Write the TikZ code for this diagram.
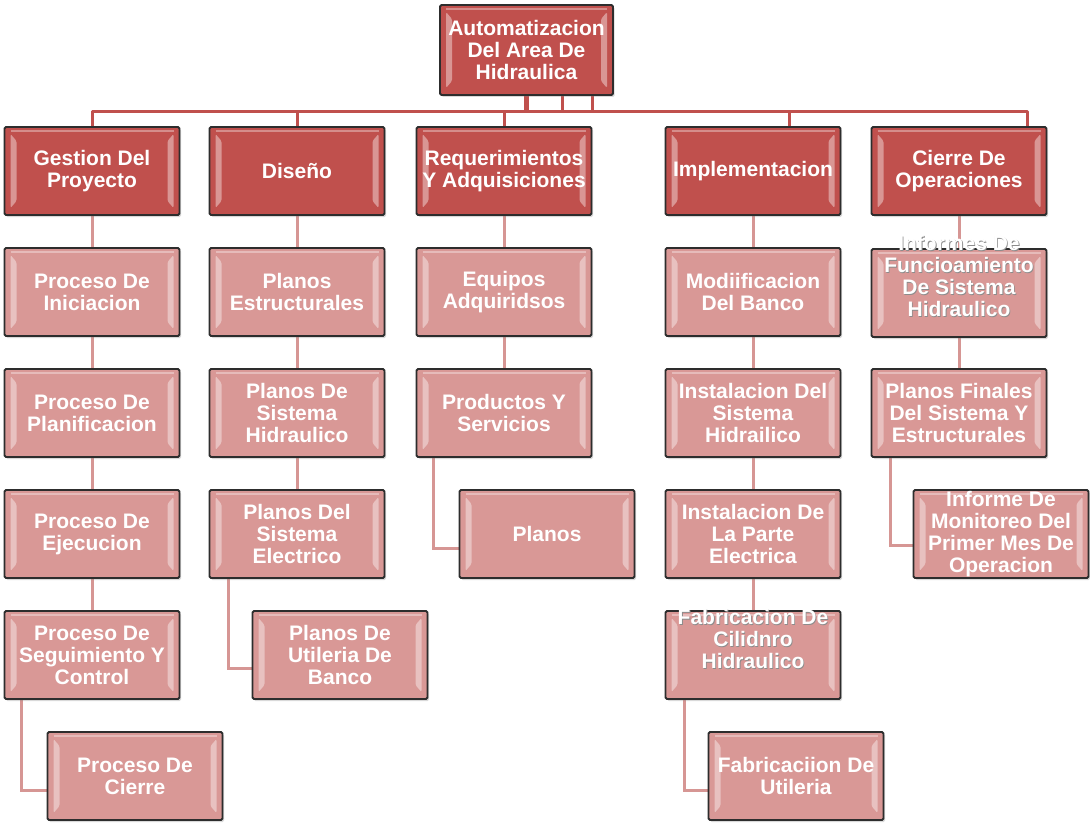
\documentclass[tikz,border=0pt]{standalone}
\usepackage{fontspec}
\setmainfont{Liberation Sans}
\usetikzlibrary{shadows}
\definecolor{accentred}{RGB}{192,80,77}
\definecolor{pinkbox}{RGB}{217,152,150}
\definecolor{pinkline}{RGB}{214,150,148}
\definecolor{boxedge}{RGB}{45,45,45}
\pgfdeclarelayer{background}
\pgfsetlayers{background,main}
\tikzset{
  bevel/.style={path picture={
    \fill[white,opacity=0.4] ([xshift=6pt,yshift=-7pt]path picture bounding box.north west) -- ([xshift=12pt,yshift=-14pt]path picture bounding box.north west) -- ([xshift=12pt,yshift=14pt]path picture bounding box.south west) -- ([xshift=6pt,yshift=7pt]path picture bounding box.south west) -- cycle;
    \fill[white,opacity=0.4] ([xshift=-6pt,yshift=-7pt]path picture bounding box.north east) -- ([xshift=-12pt,yshift=-14pt]path picture bounding box.north east) -- ([xshift=-12pt,yshift=14pt]path picture bounding box.south east) -- ([xshift=-6pt,yshift=7pt]path picture bounding box.south east) -- cycle;
    \draw[white,opacity=0.35,line width=1.2pt] ([xshift=6pt,yshift=-4pt]path picture bounding box.north west) -- ([xshift=-6pt,yshift=-4pt]path picture bounding box.north east);
  }},
  wbsbox/.style={draw=boxedge, line width=1.8pt, rounded corners=1.5pt,
    minimum width=175pt, minimum height=88pt, inner sep=0pt, align=center,
    text=white, font=\bfseries\fontsize{21}{22}\selectfont,
    drop shadow={shadow xshift=1.5pt, shadow yshift=-2pt, opacity=0.3}, bevel},
  lvlone/.style={wbsbox, fill=accentred},
  lvltwo/.style={wbsbox, fill=pinkbox},
  txtonly/.style={align=center, text=white, inner sep=0pt, font=\bfseries\fontsize{21}{22}\selectfont},
  txtshadow/.style={align=center, text=black!45, inner sep=0pt, font=\bfseries\fontsize{21}{22}\selectfont},
  bus/.style={draw=accentred, line width=3pt},
  conn/.style={draw=pinkline, line width=3pt},
}
\begin{document}
\begin{tikzpicture}[x=1pt,y=-1pt]
\useasboundingbox (0,0) rectangle (1090,824);
% top
\node[lvlone, minimum width=173pt, minimum height=90pt] (top) at (526.5,50) {Automatizacion\\Del Area De\\Hidraulica};
% level 1
\node[lvlone] (g1) at (92,171) {Gestion Del\\Proyecto};
\node[lvlone] (d1) at (297,171) {Diseño};
\node[lvlone] (r1) at (504,171) {Requerimientos\\Y Adquisiciones};
\node[lvlone] (i1) at (753,171) {Implementacion};
\node[lvlone] (c1) at (959,171) {Cierre De\\Operaciones};
% column Gestion
\node[lvltwo] (g2) at (92,292) {Proceso De\\Iniciacion};
\node[lvltwo] (g3) at (92,413) {Proceso De\\Planificacion};
\node[lvltwo] (g4) at (92,534) {Proceso De\\Ejecucion};
\node[lvltwo] (g5) at (92,655) {Proceso De\\Seguimiento Y\\Control};
\node[lvltwo] (g6) at (135,776) {Proceso De\\Cierre};
% column Diseno
\node[lvltwo] (d2) at (297,292) {Planos\\Estructurales};
\node[lvltwo] (d3) at (297,413) {Planos De\\Sistema\\Hidraulico};
\node[lvltwo] (d4) at (297,534) {Planos Del\\Sistema\\Electrico};
\node[lvltwo] (d5) at (340,655) {Planos De\\Utileria De\\Banco};
% column Requerimientos
\node[lvltwo] (r2) at (504,292) {Equipos\\Adquiridsos};
\node[lvltwo] (r3) at (504,413) {Productos Y\\Servicios};
\node[lvltwo] (r4) at (547,534) {Planos};
% column Implementacion
\node[lvltwo] (i2) at (753,292) {Modiificacion\\Del Banco};
\node[lvltwo] (i3) at (753,413) {Instalacion Del\\Sistema\\Hidrailico};
\node[lvltwo] (i4) at (753,534) {Instalacion De\\La Parte\\Electrica};
\node[lvltwo] (i5) at (753,655) {};
\node[txtshadow] at ([xshift=0.8pt,yshift=15.2pt]i5.center) {Fabricacion De\\Cilidnro\\Hidraulico};
\node[txtonly] (i5t) at ([yshift=16pt]i5.center) {Fabricacion De\\Cilidnro\\Hidraulico};
\node[lvltwo] (i6) at (796,776) {Fabricaciion De\\Utileria};
% column Cierre
\node[lvltwo] (c2) at (959,293) {};
\node[txtshadow] at ([xshift=0.8pt,yshift=16.2pt]c2.center) {Informes De\\Funcioamiento\\De Sistema\\Hidraulico};
\node[txtonly] (c2t) at ([yshift=17pt]c2.center) {Informes De\\Funcioamiento\\De Sistema\\Hidraulico};
\node[lvltwo] (c3) at (959,413) {Planos Finales\\Del Sistema Y\\Estructurales};
\node[lvltwo] (c4) at (1001,534) {Informe De\\Monitoreo Del\\Primer Mes De\\Operacion};
% connectors
\begin{pgfonlayer}{background}
\coordinate (busy) at (0,112);
\coordinate (t2) at ([xshift=36pt]top.south);
\coordinate (t3) at ([xshift=66pt]top.south);
\coordinate (idrop) at ([xshift=36pt]i1.north);
\coordinate (cdrop) at ([xshift=68pt]c1.north);
\draw[bus, line width=5pt] (top.south) -- (top.south |- busy);
\draw[bus] (t2) -- (t2 |- busy);
\draw[bus] (t3) -- (t3 |- busy);
\draw[bus, line join=round] (g1.north) -- (g1.north |- busy) -- (cdrop |- busy) -- (cdrop);
\draw[bus] (d1.north) -- (d1.north |- busy);
\draw[bus] (r1.north) -- (r1.north |- busy);
\draw[bus] (idrop) -- (idrop |- busy);
% stacks
\draw[conn] (g1.south) -- (g5.north);
\draw[conn] (d1.south) -- (d4.north);
\draw[conn] (r1.south) -- (r3.north);
\draw[conn] (i1.south) -- (i5.north);
\draw[conn] (c1.south) -- (c3.north);
% elbows
\draw[conn] ([xshift=18pt]g5.south west) |- ([yshift=-14pt]g6.west);
\draw[conn] ([xshift=20pt]d4.south west) |- ([yshift=-13pt]d5.west);
\draw[conn] ([xshift=18pt]r3.south west) |- ([yshift=-14pt]r4.west);
\draw[conn] ([xshift=20pt]i5.south west) |- ([yshift=-14pt]i6.west);
\draw[conn] ([xshift=20pt]c3.south west) |- ([yshift=-11pt]c4.west);
\end{pgfonlayer}
\end{tikzpicture}
\end{document}
